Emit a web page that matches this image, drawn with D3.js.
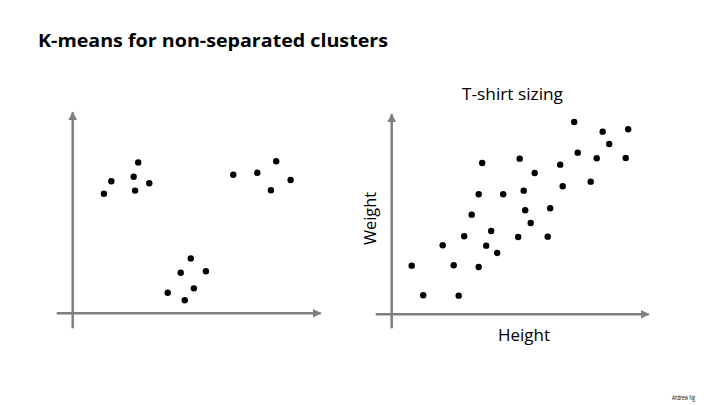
<!DOCTYPE html>
<html>
<head>
<meta charset="utf-8">
<script src="https://cdn.jsdelivr.net/npm/d3@7"></script>
<style>
  html, body { margin: 0; padding: 0; background: #fff; }
  svg { display: block; font-family: "Open Sans", "Noto Sans", sans-serif; }
</style>
</head>
<body>
<svg id="chart" width="720" height="405"></svg>
<script>
// Left plot: three well separated clusters (arbitrary units)
const sepX = [1.30, 1.61, 2.73, 2.54, 2.60, 3.19, 6.69, 7.69, 8.48, 9.08, 8.26, 4.92, 4.50, 5.55, 5.05, 3.96, 4.67];
const sepY = [6.23, 6.88, 7.86, 7.11, 6.39, 6.77, 7.22, 7.32, 7.92, 6.94, 6.41, 2.86, 2.11, 2.19, 1.30, 1.07, 0.68];

// Right plot: T-shirt sizing, height (cm) vs weight (kg)
const heights = [154.0, 156.3, 163.4, 160.2, 162.4, 164.5, 167.4, 166.0, 167.4, 168.1, 168.9,
                 169.9, 171.1, 172.3, 175.3, 175.6, 176.4, 176.7, 177.8, 178.6, 181.2, 181.7,
                 183.7, 184.2, 186.5, 187.2, 189.8, 191.0, 192.2, 193.5, 196.8, 197.3];
const weights = [54.6, 45.7, 45.6, 60.7, 54.7, 63.4, 54.2, 69.9, 76.0, 85.4, 60.6,
                 65.0, 58.4, 76.0, 63.2, 86.7, 77.1, 71.2, 67.4, 82.4, 63.3, 71.8,
                 84.9, 78.4, 97.7, 88.5, 79.8, 86.8, 94.8, 91.1, 86.9, 95.5];

const titleText = "K-means for non-separated clusters";
const subTitle = "T-shirt sizing";
const xLabel = "Height";
const yLabel = "Weight";
const credit = "Andrew Ng";

const svg = d3.select("#chart");
const axisColor = "#7f7f7f";

// arrow head marker
svg.append("defs").append("marker")
  .attr("id", "arrow")
  .attr("viewBox", "0 0 10 10")
  .attr("refX", 9).attr("refY", 5)
  .attr("markerWidth", 3.6).attr("markerHeight", 3.6)
  .attr("markerUnits", "strokeWidth")
  .attr("orient", "auto")
  .append("path")
  .attr("d", "M0,0 L10,5 L0,10 z")
  .attr("fill", axisColor);

svg.append("text")
  .attr("x", 38).attr("y", 47)
  .attr("font-size", 17.5).attr("font-weight", "bold")
  .attr("fill", "#000")
  .attr("textLength", 350).attr("lengthAdjust", "spacingAndGlyphs")
  .text(titleText);

/**
 * Draw a pair of gray arrow axes crossing at the scales' origin.
 */
function drawAxes(x, y, left, right, below, above) {
  const [x0, x1] = x.range();
  const [y0, y1] = y.range();
  svg.append("line")
    .attr("x1", x0 - left).attr("y1", y0)
    .attr("x2", x1 + right).attr("y2", y0)
    .attr("stroke", axisColor).attr("stroke-width", 2.5)
    .attr("marker-end", "url(#arrow)");
  svg.append("line")
    .attr("x1", x0).attr("y1", y0 + below)
    .attr("x2", x0).attr("y2", y1 - above)
    .attr("stroke", axisColor).attr("stroke-width", 2.5)
    .attr("marker-end", "url(#arrow)");
}

function drawDots(x, y, xs, ys) {
  svg.append("g")
    .selectAll("circle")
    .data(xs.map((d, i) => [d, ys[i]]))
    .join("circle")
    .attr("cx", d => x(d[0]))
    .attr("cy", d => y(d[1]))
    .attr("r", 3.2)
    .attr("fill", "#000");
}

// left plot
const xL = d3.scaleLinear().domain([0, 10]).range([72.7, 312.7]);
const yL = d3.scaleLinear().domain([0, 10]).range([313.3, 121.3]);
drawAxes(xL, yL, 16, 8, 15, 9);
drawDots(xL, yL, sepX, sepY);

// right plot
const xR = d3.scaleLinear().domain([150, 200]).range([391.7, 641.7]);
const yR = d3.scaleLinear().domain([40, 100]).range([314.3, 114.3]);
drawAxes(xR, yR, 16, 7, 14, 0);
drawDots(xR, yR, heights, weights);

svg.append("text")
  .attr("x", 462).attr("y", 100)
  .attr("font-size", 16.5).attr("fill", "#000")
  .attr("textLength", 101).attr("lengthAdjust", "spacingAndGlyphs")
  .text(subTitle);

svg.append("text")
  .attr("x", 498).attr("y", 341)
  .attr("font-size", 17).attr("fill", "#000")
  .attr("textLength", 52).attr("lengthAdjust", "spacingAndGlyphs")
  .text(xLabel);

svg.append("text")
  .attr("transform", "translate(376,218.5) rotate(-90)")
  .attr("text-anchor", "middle")
  .attr("font-size", 16.5).attr("fill", "#000")
  .attr("textLength", 53).attr("lengthAdjust", "spacingAndGlyphs")
  .text(yLabel);

svg.append("text")
  .attr("x", 672).attr("y", 400)
  .attr("font-size", 8).attr("fill", "#000")
  .attr("textLength", 23).attr("lengthAdjust", "spacingAndGlyphs")
  .text(credit);
</script>
</body>
</html>
